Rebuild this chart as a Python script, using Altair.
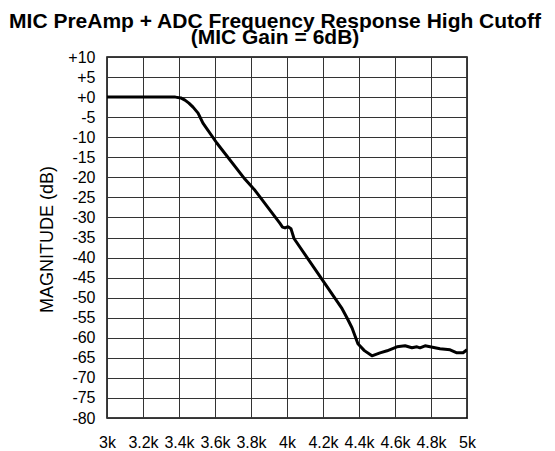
import altair as alt
import pandas as pd

freq_k = [3.0, 3.1, 3.2, 3.3, 3.38, 3.41, 3.433, 3.455, 3.478, 3.506, 3.533, 3.611,
          3.767, 3.822, 3.961, 3.975, 3.989, 4.006, 4.022, 4.039, 4.306, 4.333, 4.361,
          4.394, 4.43, 4.472, 4.517, 4.556, 4.611, 4.656, 4.694, 4.722, 4.739, 4.767,
          4.85, 4.906, 4.944, 4.978, 5.0]
mag_db = [0, 0, 0, 0, 0, -0.2, -0.75, -1.5, -2.5, -4, -6.5, -11.5,
          -20.5, -23.25, -31.5, -32.4, -32.6, -32.3, -32.8, -35.25, -52.75, -55, -57.5,
          -61.5, -63.2, -64.5, -63.75, -63.25, -62.25, -62, -62.5, -62.25, -62.5, -62,
          -62.75, -63, -63.75, -63.75, -63]

x_ticks = [3.0, 3.2, 3.4, 3.6, 3.8, 4.0, 4.2, 4.4, 4.6, 4.8, 5.0]
y_ticks = list(range(-80, 11, 5))

df = pd.DataFrame({"f": freq_k, "m": mag_db})

font = "Liberation Sans"

chart = alt.Chart(df).mark_line(color="black", strokeWidth=3, clip=True,
                                strokeJoin="round").encode(
    x=alt.X("f:Q", scale=alt.Scale(domain=[3.0, 5.0], nice=False, zero=False),
            axis=alt.Axis(values=x_ticks, title=None, labelExpr="datum.value + 'k'",
                          grid=True, gridColor="#333", gridWidth=1, ticks=False,
                          domain=False, labelPadding=16, labelFontSize=16,
                          labelFont=font, labelColor="black", labelFlush=False)),
    y=alt.Y("m:Q", scale=alt.Scale(domain=[-80, 10], nice=False, zero=False),
            axis=alt.Axis(values=y_ticks, title="MAGNITUDE (dB)",
                          labelExpr="datum.value > 0 ? '+' + datum.value : (datum.value == 0 ? '+0' : '' + datum.value)",
                          grid=True, gridColor="#333", gridWidth=1, ticks=False,
                          domain=False, labelPadding=12, labelFontSize=16,
                          labelFont=font, labelColor="black", labelFlush=False,
                          titleFont=font, titleFontSize=18, titleFontWeight="normal",
                          titleColor="black", titleX=-55, titleY=182,
                          titleBaseline="alphabetic", titleAngle=270)),
).properties(
    width=360, height=361,
    autosize=alt.AutoSizeParams(type="none"),
    padding={"left": 99, "top": 49, "right": 80, "bottom": 32},
    title=alt.TitleParams(["MIC PreAmp + ADC Frequency Response High Cutoff", "(MIC Gain = 6dB)"],
                          font=font, fontSize=21, fontWeight="bold", color="black",
                          anchor="middle", dx=-12, offset=1, lineHeight=16),
).configure_view(stroke="black", strokeWidth=1.5)

chart.save("out.html", embed_options={"renderer": "svg", "actions": False})
